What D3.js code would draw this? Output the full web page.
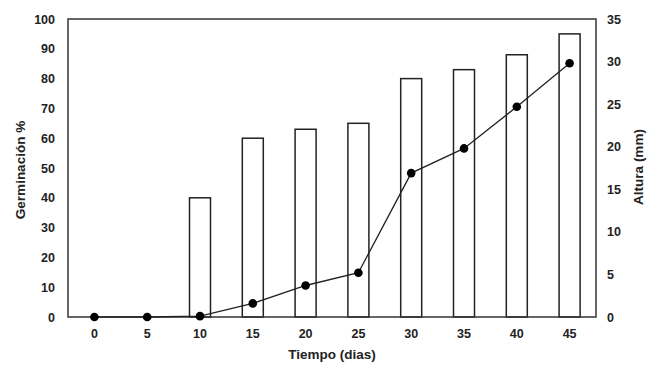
<!DOCTYPE html>
<html>
<head>
<meta charset="utf-8">
<script src="https://cdn.jsdelivr.net/npm/d3@7"></script>
<style>
  html, body { margin: 0; padding: 0; background: #fff; overflow: hidden; }
  svg { display: block; }
  text { font-family: "Liberation Sans", Arial, sans-serif; font-weight: bold; fill: #222; }
</style>
</head>
<body>
<div id="chart"></div>
<script>
const width = 650
const height = 372
const margin = { top: 19, right: 54, bottom: 55, left: 68 }
const innerWidth = width - margin.left - margin.right
const innerHeight = height - margin.top - margin.bottom

// tiempo (dias)
const days = [0, 5, 10, 15, 20, 25, 30, 35, 40, 45]
// germinacion % (barras)
const germination = [0, 0, 40, 60, 63, 65, 80, 83, 88, 95]
// altura (mm) (linea)
const heightMm = [0, 0, 0.1, 1.6, 3.7, 5.2, 16.9, 19.8, 24.7, 29.8]
const leftTicks = [0, 10, 20, 30, 40, 50, 60, 70, 80, 90, 100]
const rightTicks = [0, 5, 10, 15, 20, 25, 30, 35]

const svg = d3.select("#chart").append("svg")
    .attr("width", width)
    .attr("height", height)

const g = svg.append("g").attr("transform", `translate(${margin.left},${margin.top})`)

const x = d3.scaleBand().domain(days).range([0, innerWidth])
const yLeft = d3.scaleLinear().domain([0, 100]).range([innerHeight, 0])
const yRight = d3.scaleLinear().domain([0, 35]).range([innerHeight, 0])
const barWidth = 21

// bars
g.selectAll("rect.bar").data(days.map((d, i) => ({ d, v: germination[i] })).filter(e => e.v > 0))
  .join("rect")
    .attr("class", "bar")
    .attr("x", e => x(e.d) + x.bandwidth() / 2 - barWidth / 2)
    .attr("y", e => yLeft(e.v))
    .attr("width", barWidth)
    .attr("height", e => innerHeight - yLeft(e.v))
    .attr("fill", "#fff")
    .attr("stroke", "#222")
    .attr("stroke-width", 1.5)

// frame
g.append("rect")
    .attr("width", innerWidth)
    .attr("height", innerHeight)
    .attr("fill", "none")
    .attr("stroke", "#333")
    .attr("stroke-width", 1.5)

// line
const pts = days.map((d, i) => ({ d, v: heightMm[i] }))
g.append("path")
    .datum(pts)
    .attr("fill", "none")
    .attr("stroke", "#222")
    .attr("stroke-width", 1.3)
    .attr("d", d3.line().x(e => x(e.d) + x.bandwidth() / 2).y(e => yRight(e.v)))
g.selectAll("circle").data(pts)
  .join("circle")
    .attr("cx", e => x(e.d) + x.bandwidth() / 2)
    .attr("cy", e => yRight(e.v))
    .attr("r", 4.3)
    .attr("fill", "#000")

// axes
const axL = g.append("g").call(d3.axisLeft(yLeft).tickValues(leftTicks).tickSize(0).tickPadding(13))
const axR = g.append("g").attr("transform", `translate(${innerWidth},0)`)
    .call(d3.axisRight(yRight).tickValues(rightTicks).tickSize(0).tickPadding(11))
const axB = g.append("g").attr("transform", `translate(0,${innerHeight})`)
    .call(d3.axisBottom(x).tickSize(0).tickPadding(12))
;[axL, axR, axB].forEach(a => {
    a.select(".domain").remove()
    a.selectAll("text").style("font-size", "12.5px").style("font-family", null)
})

// titles
svg.append("text")
    .attr("transform", `translate(20,${margin.top + innerHeight / 2 + 2}) rotate(-90)`)
    .attr("text-anchor", "middle")
    .attr("dy", "0.35em")
    .style("font-size", "13.5px")
    .text("Germinación %")
svg.append("text")
    .attr("transform", `translate(638,${margin.top + innerHeight / 2 - 1}) rotate(-90)`)
    .attr("text-anchor", "middle")
    .attr("dy", "0.35em")
    .style("font-size", "13.5px")
    .text("Altura (mm)")
svg.append("text")
    .attr("x", margin.left + innerWidth / 2)
    .attr("y", 359)
    .attr("text-anchor", "middle")
    .style("font-size", "13.5px")
    .text("Tiempo (dias)")
</script>
</body>
</html>
